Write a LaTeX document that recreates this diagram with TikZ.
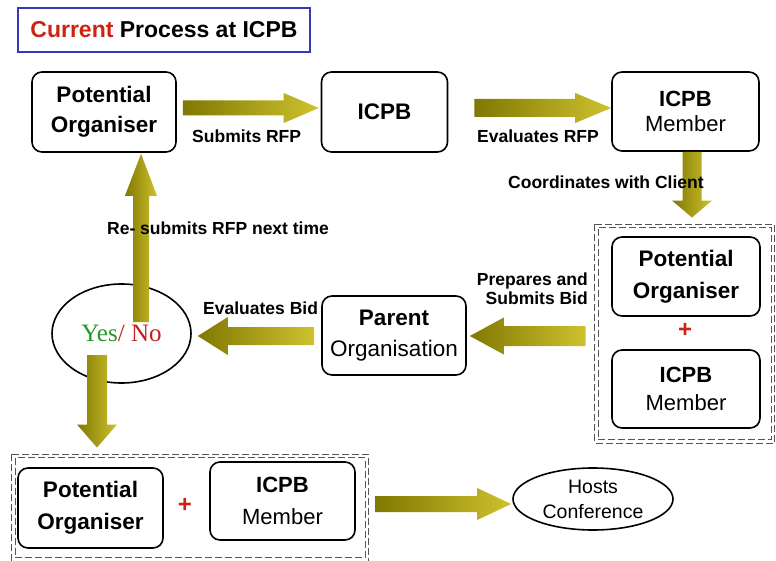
\documentclass[tikz,border=0pt]{standalone}
\usepackage{fontspec}
\setmainfont{Liberation Sans}
\newfontfamily\ynfont{Liberation Serif}
\usetikzlibrary{shapes.geometric, calc, positioning}

\definecolor{olivedk}{RGB}{128,120,2}
\definecolor{olivelt}{RGB}{206,194,46}
\definecolor{titleblue}{RGB}{55,55,190}
\definecolor{curred}{RGB}{205,35,20}
\definecolor{yesgreen}{RGB}{40,150,40}
\definecolor{nored}{RGB}{195,30,30}
\definecolor{dashgray}{RGB}{85,85,85}

% block arrow: tail, tip, shaft half width, head half width, head length (all pt)
\newcommand{\blockarrow}[5]{%
  \shade[fatfill] let \p1=($(#2)-(#1)$), \n1={veclen(\x1,\y1)}, \n2={atan2(\y1,\x1)} in
    [shift={(#1)}, rotate=\n2]
    (0pt,-#3pt) -- ({(\n1-#5)*1pt},-#3pt) -- ({(\n1-#5)*1pt},-#4pt) -- ({\n1*1pt},0pt)
    -- ({(\n1-#5)*1pt},#4pt) -- ({(\n1-#5)*1pt},#3pt) -- (0pt,#3pt) -- cycle;}

\begin{document}
\begin{tikzpicture}[x=1pt, y=-1pt,
    box/.style={rectangle, draw=black, line width=1.6pt, rounded corners=10pt, align=center, font=\fontsize{22.5}{30}\selectfont, inner sep=2pt},
    oval/.style={ellipse, draw=black, line width=1.6pt, align=center, inner sep=1pt},
    grpbox/.style={rectangle, draw=dashgray, line width=0.9pt, dash pattern=on 7pt off 3pt},
    grpline/.style={draw=dashgray, line width=0.9pt, dash pattern=on 7pt off 3pt},
    plus/.style={font=\fontsize{24}{24}\selectfont\bfseries, text=curred, inner sep=0pt},
    lbl/.style={font=\fontsize{17.5}{19}\selectfont\bfseries, inner sep=1pt},
    fatfill/.style={left color=olivedk, right color=olivelt}
]
\useasboundingbox (0,0) rectangle (776,561);

% Title
\node[draw=titleblue, line width=1.6pt, minimum width=292pt, minimum height=44pt, font=\fontsize{23}{26}\selectfont\bfseries] (title) at (164,30) {\textcolor{curred}{Current} Process at ICPB};

% Top row (y = 112)
\node[box, minimum width=144pt, minimum height=80pt] (po1) at (104,112) {\textbf{Potential}\\\textbf{Organiser}};
\node[box, minimum width=126pt, minimum height=80pt] (icpb) at (384.5,112) {\textbf{ICPB}};
\node[box, minimum width=147pt, minimum height=79pt, font=\fontsize{22}{25}\selectfont] (mem1) at (685.5,111.5) {\textbf{ICPB}\\Member};

% Right group
\node[box, minimum width=148pt, minimum height=79pt, font=\fontsize{22.5}{32}\selectfont] (po2) at (686,276.5) {\textbf{Potential}\\\textbf{Organiser}};
\node[plus] (plus1) at (685,330) {+};
\node[box, minimum width=148pt, minimum height=78pt, font=\fontsize{22}{28}\selectfont] (mem2) at (686,389) {\textbf{ICPB}\\Member};
\node[grpbox, minimum width=173pt, minimum height=212pt] (grp1) at (684.5,333.5) {};
\draw[grpline] ([shift={(-3,-3)}]grp1.north west) rectangle ([shift={(3,3)}]grp1.south east);

% Middle row (y = 335)
\node[box, minimum width=144pt, minimum height=79pt, font=\fontsize{22.5}{31}\selectfont] (parent) at (394,335.5) {\textbf{Parent}\\Organisation};
\node[oval, minimum width=139pt, minimum height=99pt, font=\ynfont\fontsize{25}{28}\selectfont] (yesno) at (121.5,333.5) {\textcolor{yesgreen}{Yes}\textcolor{nored}{/ No}};

% Bottom group
\node[box, minimum width=145pt, minimum height=80pt, font=\fontsize{22.5}{32}\selectfont] (po3) at (90.5,508) {\textbf{Potential}\\\textbf{Organiser}};
\node[plus] (plus2) at (185,505) {+};
\node[box, minimum width=145pt, minimum height=78pt, font=\fontsize{22}{32}\selectfont] (mem3) at (282.5,501) {\textbf{ICPB}\\Member};
\node[grpbox, minimum width=350pt, minimum height=100pt] (grp2) at (190,507.5) {};
\draw[grpline] ([shift={(-3,-3)}]grp2.north west) rectangle ([shift={(3,3)}]grp2.south east);
\node[oval, minimum width=160pt, minimum height=62pt, font=\fontsize{19.5}{25}\selectfont] (hosts) at (593,499) {Hosts\\Conference};

% Arrow ends
\coordinate (a1t) at ($(po1.east)+(6,-4)$);
\coordinate (a1h) at ($(icpb.west)+(-2,-4)$);
\coordinate (a2t) at ($(icpb.east)+(26,-4)$);
\coordinate (a2h) at ($(mem1.west)+(0,-3.5)$);
\coordinate (a3t) at ($(mem1.south)+(6.5,0)$);
\coordinate (a3h) at ($(grp1.north)+(7.5,-9.5)$);
\coordinate (a4t) at ($(grp1.west)+(-12,2.5)$);
\coordinate (a4h) at ($(parent.east)+(3,0.5)$);
\coordinate (a5t) at ($(parent.west)+(-7,0.5)$);
\coordinate (a5h) at ($(yesno.east)+(6,2.5)$);
\coordinate (a6t) at ($(yesno.center)+(19.5,-11.5)$);
\coordinate (a6h) at ($(po1.south)+(37,1)$);
\coordinate (a7t) at ($(yesno.center)+(-24.5,21.5)$);
\coordinate (a7h) at ($(grp2.north)+(-93,-9.5)$);
\coordinate (a8t) at ($(grp2.east)+(10,-3.5)$);
\coordinate (a8h) at ($(hosts.west)+(-1,5)$);

% Block arrows
\blockarrow{a1t}{a1h}{7.5}{15}{35}
\blockarrow{a2t}{a2h}{9}{15}{36}
\blockarrow{a3t}{a3h}{9.5}{20}{17}
\blockarrow{a4t}{a4h}{10}{18.5}{34}
\blockarrow{a5t}{a5h}{9}{19}{30}
\blockarrow{a6t}{a6h}{8}{16}{42}
\blockarrow{a7t}{a7h}{10}{20}{23}
\blockarrow{a8t}{a8h}{8}{16}{34}

% Labels
\node[lbl, anchor=west] (l1) at (191,136) {Submits RFP};
\node[lbl, anchor=west] (l2) at (476,136) {Evaluates RFP};
\node[lbl, anchor=west] (l3) at (507,182) {Coordinates with Client};
\node[lbl, anchor=east, align=right] (l4) at (589,289) {Prepares and\\Submits Bid};
\node[lbl, anchor=west] (l5) at (202,308) {Evaluates Bid};
\node[lbl, anchor=west] (l6) at (106,228) {Re- submits RFP next time};

\end{tikzpicture}
\end{document}
